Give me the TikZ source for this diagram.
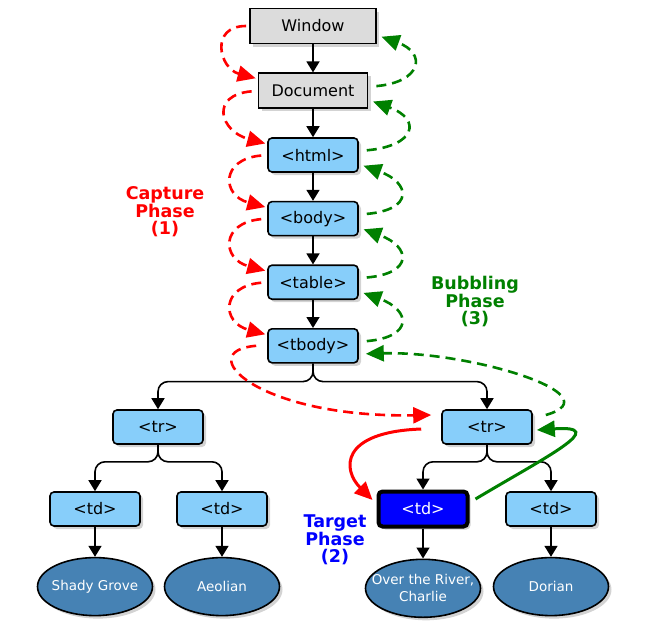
\documentclass[tikz,border=0pt]{standalone}
\usepackage{fontspec}
\setmainfont{DejaVu Sans}
\usetikzlibrary{positioning,shapes.geometric,arrows.meta,shadows,calc}

\definecolor{boxgray}{HTML}{DCDCDC}
\definecolor{elemblue}{HTML}{87CEFA}
\definecolor{leafblue}{HTML}{4682B4}
\definecolor{bubblegreen}{HTML}{008000}

\tikzset{
    % Window and Document boxes
    topbox/.style={
        draw=black,
        line width=1.8pt,
        fill=boxgray,
        minimum height=35pt,
        font=\fontsize{16}{18}\selectfont,
        drop shadow={shadow xshift=3pt, shadow yshift=-3pt, opacity=0.35}
    },
    % DOM element boxes
    elem/.style={
        draw=black,
        line width=1.6pt,
        fill=elemblue,
        rounded corners=4pt,
        minimum width=90pt,
        minimum height=34pt,
        font=\fontsize{16}{18}\selectfont,
        drop shadow={shadow xshift=3pt, shadow yshift=-3pt, opacity=0.35}
    },
    % Event target
    targetbox/.style={
        elem,
        fill=blue,
        text=white,
        line width=4pt,
        minimum width=89pt,
        minimum height=35pt
    },
    % Text leaves
    leaf/.style={
        ellipse,
        draw=black,
        line width=1.6pt,
        fill=leafblue,
        text=white,
        minimum width=115pt,
        minimum height=58pt,
        inner xsep=-14pt,
        inner ysep=0pt,
        align=center,
        font=\fontsize{13.5}{17}\selectfont,
        drop shadow={shadow xshift=3pt, shadow yshift=-3pt, opacity=0.35}
    },
    % Phase labels
    phaselabel/.style={
        font=\bfseries\fontsize{17.5}{17.5}\selectfont,
        align=center
    },
    % Arrows
    treearrow/.style={
        -{Triangle[length=11pt,width=13pt]},
        line width=1.6pt,
        black
    },
    capture/.style={
        -{Triangle[length=18pt,width=16pt]},
        line width=2.6pt,
        red,
        dash pattern=on 10pt off 6pt
    },
    bubble/.style={
        -{Triangle[length=18pt,width=16pt]},
        line width=2.6pt,
        bubblegreen,
        dash pattern=on 10pt off 6pt
    }
}

\begin{document}
\begin{tikzpicture}[x=1pt, y=1pt]

\useasboundingbox (0,0) rectangle (650,-621);

% === DOM CHAIN ===
\node[topbox, minimum width=126pt] (window) at (313,-26) {Window};
\node[topbox, minimum width=109pt, below=28pt of window] (document) {Document};
\node[elem, below=28pt of document] (html) {<html>};
\node[elem, below=28pt of html] (body) {<body>};
\node[elem, below=28pt of body] (table) {<table>};
\node[elem, below=28pt of table] (tbody) {<tbody>};

\draw[treearrow] (window) -- (document);
\draw[treearrow] (document) -- (html);
\draw[treearrow] (html) -- (body);
\draw[treearrow] (body) -- (table);
\draw[treearrow] (table) -- (tbody);

% === TABLE ROWS ===
\node[elem] (trleft) at (158,-427) {<tr>};
\node[elem] (trright) at (487,-427) {<tr>};

\draw[treearrow, rounded corners=10pt] (tbody.south) -- ++(0,-18) -| (trleft.north);
\draw[treearrow, rounded corners=10pt] (tbody.south) -- ++(0,-18) -| (trright.north);

% === TABLE CELLS ===
\node[elem] (tdone) at (95,-509) {<td>};
\node[elem] (tdtwo) at (222,-509) {<td>};
\node[targetbox] (tdthree) at (423,-509) {<td>};
\node[elem] (tdfour) at (551,-509) {<td>};

\draw[treearrow, rounded corners=10pt] (trleft.south) -- ++(0,-17) -| (tdone.north);
\draw[treearrow, rounded corners=10pt] (trleft.south) -- ++(0,-17) -| (tdtwo.north);
\draw[treearrow, rounded corners=10pt] (trright.south) -- ++(0,-17) -| (tdthree.north);
\draw[treearrow, rounded corners=10pt] (trright.south) -- ++(0,-17) -| (tdfour.north);

% === TEXT LEAVES ===
\node[leaf, below=30pt of tdone] (shady) {Shady Grove};
\node[leaf, below=30pt of tdtwo] (aeolian) {Aeolian};
\node[leaf, below=30pt of tdthree] (river) {Over the River,\\Charlie};
\node[leaf, below=30pt of tdfour] (dorian) {Dorian};

\draw[treearrow] (tdone) -- (shady);
\draw[treearrow] (tdtwo) -- (aeolian);
\draw[treearrow] (tdthree) -- (river);
\draw[treearrow] (tdfour) -- (dorian);

% === CAPTURE PHASE ===
\draw[capture, shorten <=3pt, shorten >=2pt] (window.west) to[out=180, in=165, looseness=1.9] ([yshift=12pt]document.west);
\draw[capture, shorten <=6pt, shorten >=2pt] (document.west) to[out=185, in=165, looseness=2.3] ([yshift=11pt]html.west);
\draw[capture, shorten <=6pt, shorten >=2pt] (html.west) to[out=185, in=165, looseness=2.3] ([yshift=11pt]body.west);
\draw[capture, shorten <=6pt, shorten >=2pt] (body.west) to[out=185, in=165, looseness=2.3] ([yshift=11pt]table.west);
\draw[capture, shorten <=6pt, shorten >=2pt] (table.west) to[out=185, in=165, looseness=2.3] ([yshift=11pt]tbody.west);
\draw[capture] ([xshift=-11pt]tbody.west) .. controls +(-65,-5) and +(-175,-3) .. ([xshift=-10pt,yshift=12pt]trright.west);

% === TARGET PHASE ===
\draw[capture, solid, line width=3pt] ([xshift=-20pt,yshift=-2pt]trright.west) .. controls +(-82,-3) and +(-30,30) .. ([xshift=-4pt,yshift=9pt]tdthree.west);

% === BUBBLING PHASE ===
\draw[bubble, solid, line width=3pt] ([xshift=6pt,yshift=10pt]tdthree.east) .. controls +(72,43) and +(74,5) .. ([xshift=4pt,yshift=-3pt]trright.east);
\draw[bubble] ([xshift=13pt,yshift=12pt]trright.east) .. controls +(70,20) and +(103,3) .. ([xshift=7pt,yshift=-8pt]tbody.east);
\draw[bubble, shorten <=8pt, shorten >=5pt] ([yshift=4pt]tbody.east) to[out=5, in=-20, looseness=2.8] ([yshift=-9pt]table.east);
\draw[bubble, shorten <=8pt, shorten >=5pt] ([yshift=4pt]table.east) to[out=5, in=-20, looseness=2.8] ([yshift=-9pt]body.east);
\draw[bubble, shorten <=8pt, shorten >=5pt] ([yshift=4pt]body.east) to[out=5, in=-20, looseness=2.8] ([yshift=-9pt]html.east);
\draw[bubble, shorten <=8pt, shorten >=5pt] ([yshift=4pt]html.east) to[out=5, in=-20, looseness=2.8] ([yshift=-9pt]document.east);
\draw[bubble, shorten <=8pt, shorten >=5pt] ([yshift=4pt]document.east) to[out=5, in=-20, looseness=2.6] ([yshift=-9pt]window.east);

% === PHASE LABELS ===
\node[phaselabel, text=red] (capturelabel) at (165,-212) {Capture\\Phase\\(1)};
\node[phaselabel, text=bubblegreen] (bubblelabel) at (475,-302) {Bubbling\\Phase\\(3)};
\node[phaselabel, text=blue] (targetlabel) at (335,-540) {Target\\Phase\\(2)};

\end{tikzpicture}
\end{document}
